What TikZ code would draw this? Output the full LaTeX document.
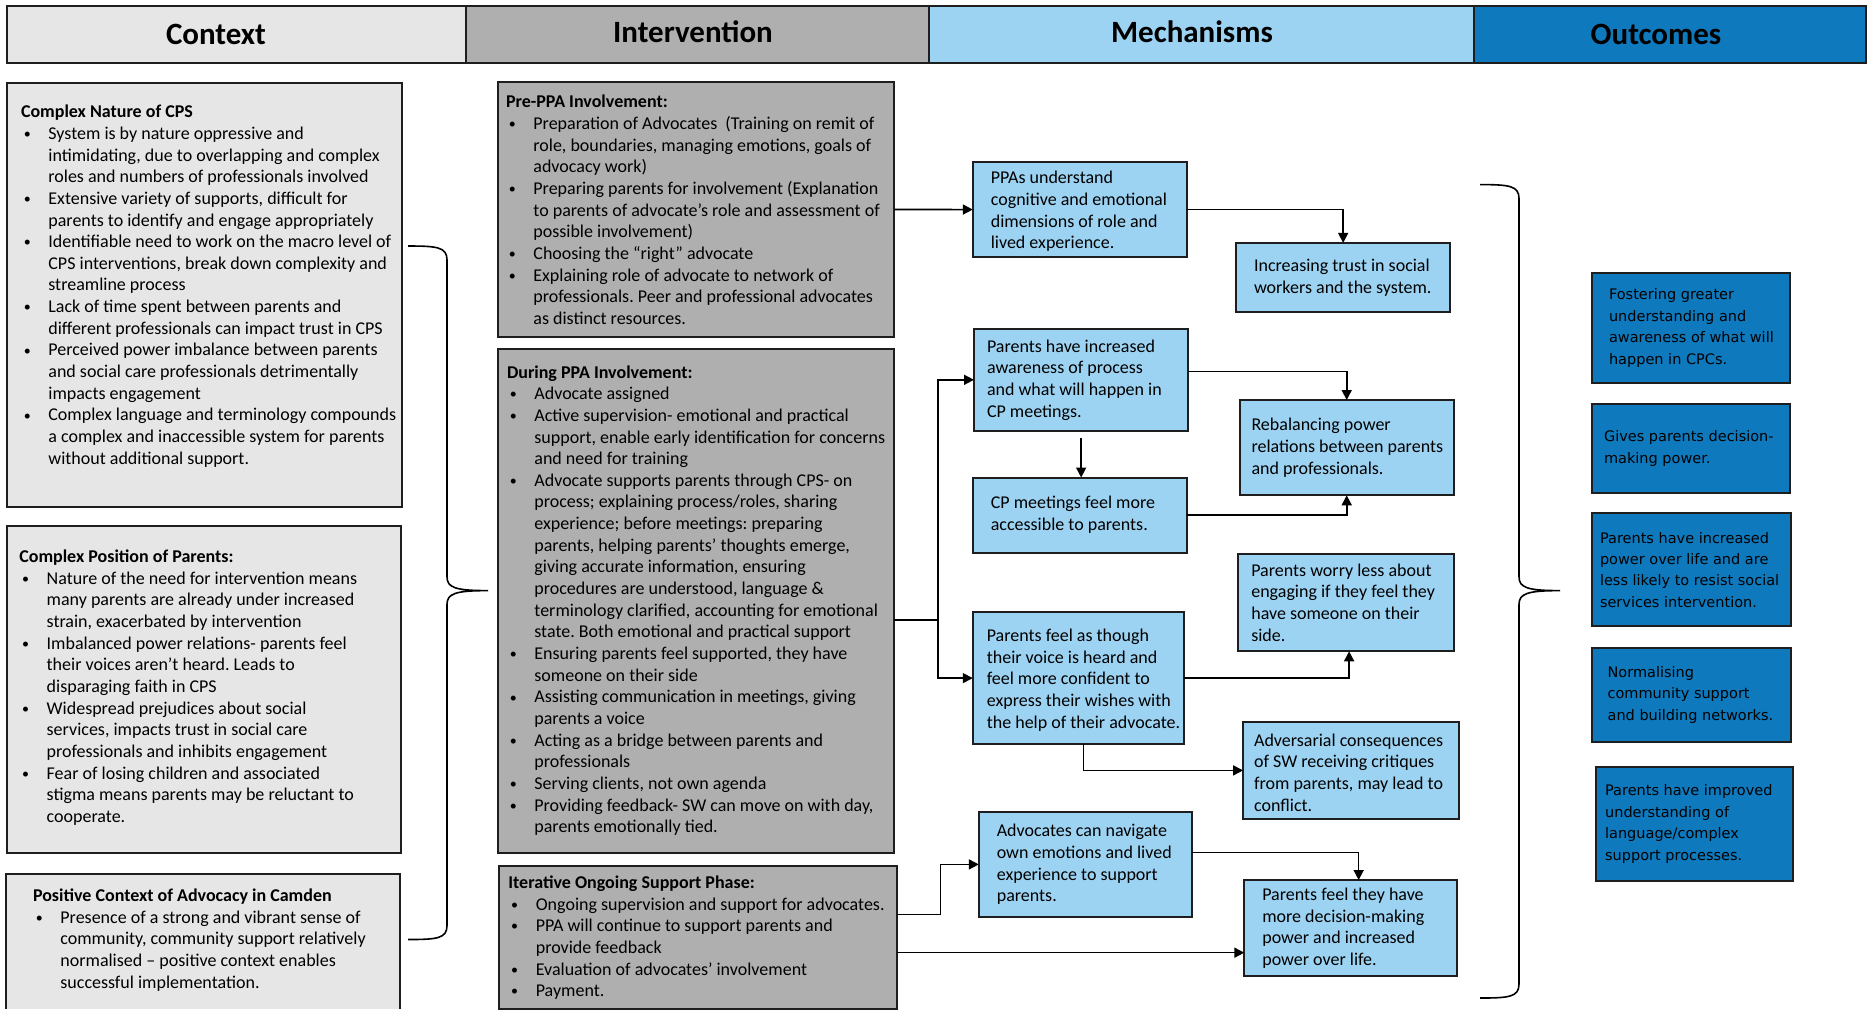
\documentclass[tikz,border=0pt]{standalone}
\usepackage{fontspec}
\setmainfont{Carlito}
\newfontfamily\outfont{DejaVu Sans}
\usetikzlibrary{arrows.meta}
\frenchspacing

\definecolor{ctxgray}{HTML}{E6E6E6}
\definecolor{intgray}{HTML}{AFAFAF}
\definecolor{mechblue}{HTML}{9DD3F2}
\definecolor{outblue}{HTML}{0F79BD}
\definecolor{edgecol}{HTML}{1E1E1E}

\newcommand\bodyfont{\fontsize{9}{10.83}\selectfont}
\newcommand\hd[1]{\rule{0pt}{7.2pt}\textbf{#1}}
\newcommand\bl{\makebox[13.7pt][l]{\hspace{1.4pt}\raisebox{0.45pt}{\fontsize{7}{7}\selectfont\textbullet}}}
\newcommand\cl{\hspace*{13.7pt}}

% box with corners (x1,y1)-(x2,y2), in pixel units
\newcommand\bx[6]{\node[#2, anchor=north west, minimum width={(#5-#3)*0.5pt}, minimum height={(#6-#4)*0.5pt}] (#1) at (#3,#4) {};}

% curly brace: end x, spine x, tip x, top y, tip y, bottom y
\newcommand\curlybrace[6]{%
  \draw[braceline] (#1,#4) .. controls ({#2-10},#4) and (#2,{#4+1}) .. (#2,{#4+14})
    -- (#2,{#5-14}) .. controls (#2,{#5-3}) and ({#2+8},#5) .. (#3,#5)
    .. controls ({#2+8},#5) and (#2,{#5+3}) .. (#2,{#5+14})
    -- (#2,{#6-14}) .. controls (#2,{#6-1}) and ({#2-10},#6) .. (#1,#6);}

\tikzset{
  every node/.style={inner sep=0pt, outer sep=0pt},
  hcell/.style={draw=edgecol, line width=0.8pt},
  ctxbox/.style={draw=edgecol, line width=1pt, fill=ctxgray},
  intbox/.style={draw=edgecol, line width=1pt, fill=intgray},
  mechbox/.style={draw=edgecol, line width=1pt, fill=mechblue},
  outbox/.style={draw=edgecol, line width=1pt, fill=outblue},
  listtxt/.style={anchor=north west, align=left, font=\bodyfont, text=black},
  mtxt/.style={anchor=west, align=left, font=\bodyfont, text=black},
  otxt/.style={anchor=west, align=left, font=\outfont\fontsize{7.25}{10.7}\selectfont, text=black},
  htxt/.style={anchor=base, font=\fontsize{15.5}{18}\selectfont\bfseries, text=black},
  conn/.style={draw=black, line width=0.8pt},
  arr/.style={conn, -{Triangle[length=5pt,width=5pt]}},
  braceline/.style={draw=black, line width=0.8pt},
}

\begin{document}
\begin{tikzpicture}[x=0.5pt, y=-0.5pt]
\useasboundingbox (0,0) rectangle (1867,1009);
\clip (0,0) rectangle (1867,1009);

% ---------- header row ----------
\bx{hctx}{hcell, fill=ctxgray}{7}{6}{466}{63}
\bx{hint}{hcell, fill=intgray}{466}{6}{929}{63}
\bx{hmech}{hcell, fill=mechblue}{929}{6}{1474}{63}
\bx{hout}{hcell, fill=outblue}{1474}{6}{1866}{63}
\node[htxt] (hctxt) at (216,44) {Context};
\node[htxt] (hintt) at (693,42) {Intervention};
\node[htxt] (hmecht) at (1192,42) {Mechanisms};
\node[htxt] (houtt) at (1656,44) {Outcomes};

% ---------- context ----------
\bx{c1}{ctxbox}{7}{83}{402}{507}
\bx{c2}{ctxbox}{7}{526}{401}{852.6}
\bx{c3}{fill=ctxgray}{6}{874}{400}{1009}
\draw[draw=edgecol, line width=1pt] (c3.south west) -- (c3.north west) -- (c3.north east) -- (c3.south east);

\node[listtxt] (c1t) at (21,103.3) {\hd{Complex Nature of CPS}\\
\bl System is by nature oppressive and\\
\cl intimidating, due to overlapping and complex\\
\cl roles and numbers of professionals involved\\
\bl Extensive variety of supports, difficult for\\
\cl parents to identify and engage appropriately\\
\bl Identifiable need to work on the macro level of\\
\cl CPS interventions, break down complexity and\\
\cl streamline process\\
\bl Lack of time spent between parents and\\
\cl different professionals can impact trust in CPS\\
\bl Perceived power imbalance between parents\\
\cl and social care professionals detrimentally\\
\cl impacts engagement\\
\bl Complex language and terminology compounds\\
\cl a complex and inaccessible system for parents\\
\cl without additional support.};

\node[listtxt] (c2t) at (19.3,548.2) {\hd{Complex Position of Parents:}\\
\bl Nature of the need for intervention means\\
\cl many parents are already under increased\\
\cl strain, exacerbated by intervention\\
\bl Imbalanced power relations- parents feel\\
\cl their voices aren’t heard. Leads to\\
\cl disparaging faith in CPS\\
\bl Widespread prejudices about social\\
\cl services, impacts trust in social care\\
\cl professionals and inhibits engagement\\
\bl Fear of losing children and associated\\
\cl stigma means parents may be reluctant to\\
\cl cooperate.};

\node[listtxt] (c3t) at (33,887.2) {\hd{Positive Context of Advocacy in Camden}\\
\bl Presence of a strong and vibrant sense of\\
\cl community, community support relatively\\
\cl normalised – positive context enables\\
\cl successful implementation.};

\curlybrace{408}{447}{488}{246}{590.6}{939.5}

% ---------- intervention ----------
\bx{pre}{intbox}{497.7}{82}{894.2}{337}
\bx{dur}{intbox}{497.7}{349}{894.2}{852.6}
\bx{itr}{intbox}{499}{865.6}{896.6}{1008.5}

\node[listtxt] (pret) at (506,93.4) {\hd{Pre-PPA Involvement:}\\
\bl Preparation of Advocates\ \ (Training on remit of\\
\cl role, boundaries, managing emotions, goals of\\
\cl advocacy work)\\
\bl Preparing parents for involvement (Explanation\\
\cl to parents of advocate’s role and assessment of\\
\cl possible involvement)\\
\bl Choosing the “right” advocate\\
\bl Explaining role of advocate to network of\\
\cl professionals. Peer and professional advocates\\
\cl as distinct resources.};

\node[listtxt] (durt) at (507,363.6) {\hd{During PPA Involvement:}\\
\bl Advocate assigned\\
\bl Active supervision- emotional and practical\\
\cl support, enable early identification for concerns\\
\cl and need for training\\
\bl Advocate supports parents through CPS- on\\
\cl process; explaining process/roles, sharing\\
\cl experience; before meetings: preparing\\
\cl parents, helping parents’ thoughts emerge,\\
\cl giving accurate information, ensuring\\
\cl procedures are understood, language \&\\
\cl terminology clarified, accounting for emotional\\
\cl state. Both emotional and practical support\\
\bl Ensuring parents feel supported, they have\\
\cl someone on their side\\
\bl Assisting communication in meetings, giving\\
\cl parents a voice\\
\bl Acting as a bridge between parents and\\
\cl professionals\\
\bl Serving clients, not own agenda\\
\bl Providing feedback- SW can move on with day,\\
\cl parents emotionally tied.};

\node[listtxt] (itrt) at (508.4,874) {\hd{Iterative Ongoing Support Phase:}\\
\bl Ongoing supervision and support for advocates.\\
\bl PPA will continue to support parents and\\
\cl provide feedback\\
\bl Evaluation of advocates’ involvement\\
\bl Payment.};

% ---------- mechanisms ----------
\bx{m1}{mechbox}{972.8}{161.9}{1187.1}{257.2}
\bx{m2}{mechbox}{1236}{242.9}{1450.3}{312}
\bx{m3}{mechbox}{974}{328.6}{1188.3}{431}
\bx{m4}{mechbox}{1239.5}{400}{1453.9}{495.3}
\bx{m5}{mechbox}{972.8}{477.5}{1187.1}{552.5}
\bx{m6}{mechbox}{1238.3}{553.7}{1453.9}{651.3}
\bx{m7}{mechbox}{972.8}{612}{1183.5}{744.2}
\bx{m8}{mechbox}{1243.1}{721.6}{1458.6}{819.2}
\bx{m9}{mechbox}{978.8}{812}{1191.9}{916.8}
\bx{m10}{mechbox}{1244.3}{880}{1457.4}{976.4}

\node[mtxt] (m1t) at ([xshift=9pt,yshift=-1pt]m1.west) {PPAs understand\\cognitive and emotional\\dimensions of role and\\lived experience.};
\node[mtxt] (m2t) at ([xshift=9pt]m2.west) {Increasing trust in social\\workers and the system.};
\node[mtxt] (m3t) at ([xshift=6.5pt]m3.west) {Parents have increased\\awareness of process\\and what will happen in\\CP meetings.};
\node[mtxt] (m4t) at ([xshift=6pt]m4.west) {Rebalancing power\\relations between parents\\and professionals.};
\node[mtxt] (m5t) at ([xshift=9pt]m5.west) {CP meetings feel more\\accessible to parents.};
\node[mtxt] (m6t) at ([xshift=6.5pt]m6.west) {Parents worry less about\\engaging if they feel they\\have someone on their\\side.};
\node[mtxt] (m7t) at ([xshift=7pt,yshift=-1pt]m7.west) {Parents feel as though\\their voice is heard and\\feel more confident to\\express their wishes with\\the help of their advocate.};
\node[mtxt] (m8t) at ([xshift=5.5pt,yshift=-1pt]m8.west) {Adversarial consequences\\of SW receiving critiques\\from parents, may lead to\\conflict.};
\node[mtxt] (m9t) at ([xshift=9pt]m9.west) {Advocates can navigate\\own emotions and lived\\experience to support\\parents.};
\node[mtxt] (m10t) at ([xshift=9pt]m10.west) {Parents feel they have\\more decision-making\\power and increased\\power over life.};

% ---------- outcomes ----------
\curlybrace{1480}{1519}{1560}{184.6}{590.6}{998}

\bx{o1}{outbox}{1592}{272.7}{1789.6}{383.4}
\bx{o2}{outbox}{1592}{403.6}{1789.6}{493}
\bx{o3}{outbox}{1592}{513.2}{1790.8}{626.3}
\bx{o4}{outbox}{1592}{647.7}{1790.8}{741.8}
\bx{o5}{outbox}{1595.5}{766.8}{1793.2}{881}

\node[otxt] (o1t) at ([xshift=8.5pt]o1.west) {Fostering greater\\understanding and\\awareness of what will\\happen in CPCs.};
\node[otxt] (o2t) at ([xshift=6pt]o2.west) {Gives parents decision-\\making power.};
\node[otxt] (o3t) at ([xshift=4pt]o3.west) {Parents have increased\\power over life and are\\less likely to resist social\\services intervention.};
\node[otxt] (o4t) at ([xshift=7.8pt]o4.west) {Normalising\\community support\\and building networks.};
\node[otxt] (o5t) at ([xshift=4.8pt]o5.west) {Parents have improved\\understanding of\\language/complex\\support processes.};

% ---------- connectors ----------
\draw[arr] (pre.east) -- (m1.west);
\draw[arr] (m1.east) -| (m2.north);

\coordinate (dout) at ([yshift=-9.6pt]dur.east);
\draw[conn] (dout) -- ++(44,0) coordinate (split);
\draw[arr] (split) |- (m3.west);
\draw[arr] (split) |- (m7.west);

\draw[arr] ([yshift=4.15pt]m3.east) -| (m4.north);
\coordinate (m3low) at ([yshift=-3.5pt]m3.south);
\draw[arr] (m3low) -- (m3low |- m5.north);
\draw[arr] (m5.east) -| (m4.south);
\draw[arr] (m7.east) -| ([xshift=1.5pt]m6.south);
\draw[arr] ([xshift=2.7pt]m7.south) |- (m8.west);

\coordinate (ita) at ([yshift=11.25pt]itr.east);
\coordinate (itb) at ([yshift=-7.8pt]itr.east);
\draw[arr] (ita) -- ++(44,0) |- (m9.west);
\draw[arr] ([yshift=6pt]m9.east) -| ([xshift=3.9pt]m10.north);
\draw[arr] (itb) -- (itb -| m10.west);

\end{tikzpicture}
\end{document}
